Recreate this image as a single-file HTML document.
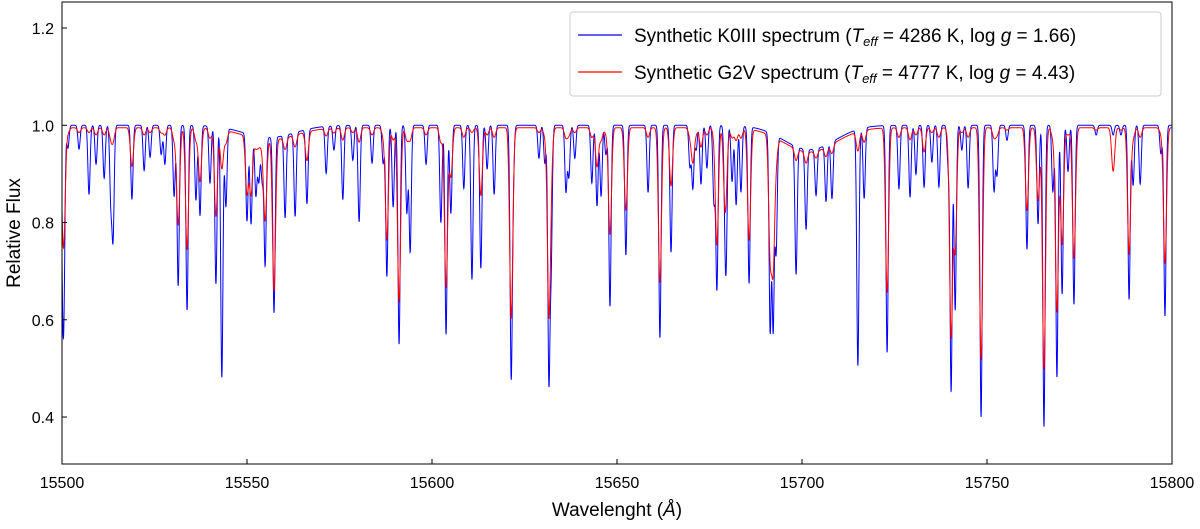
<!DOCTYPE html>
<html><head><meta charset="utf-8"><style>
html,body{margin:0;padding:0;background:#fff;}
svg text{font-family:"Liberation Sans","DejaVu Sans",sans-serif;fill:#000;}
</style></head><body>
<svg id="chart" width="1200" height="524" viewBox="0 0 1200 524" xmlns="http://www.w3.org/2000/svg">
<g id="plot"></g>
<rect x="62" y="2" width="1110" height="462" fill="none" stroke="#000" stroke-width="1"/>
<g id="axes"></g>
<text x="0" y="0" font-size="19" text-anchor="middle" transform="translate(20,233) rotate(-90)">Relative Flux</text>
<text x="617" y="516" font-size="19" text-anchor="middle">Wavelenght (<tspan font-style="italic">Å</tspan>)</text>
<g>
<rect x="570" y="12" width="591" height="84" rx="3" fill="#fff" fill-opacity="0.8" stroke="#ccc"/>
<line x1="578" y1="35" x2="622" y2="35" stroke="#0000ff" stroke-width="1.2"/>
<text x="634" y="42" font-size="19">Synthetic K0III spectrum (<tspan font-style="italic">T</tspan><tspan font-style="italic" font-size="13" dy="4">eff</tspan><tspan dy="-4"> = 4286 K, log </tspan><tspan font-style="italic">g</tspan> = 1.66)</text>
<line x1="578" y1="72" x2="622" y2="72" stroke="#ff0000" stroke-width="1.2"/>
<text x="634" y="79" font-size="19">Synthetic G2V spectrum (<tspan font-style="italic">T</tspan><tspan font-style="italic" font-size="13" dy="4">eff</tspan><tspan dy="-4"> = 4777 K, log </tspan><tspan font-style="italic">g</tspan> = 4.43)</text>
</g>
</svg>
<script>
const lineCenters=[15500.2,15500.5,15501.6,15504.6,15507.3,15509.2,15511.4,15513.2,15513.8,15518.9,15522.2,15523.8,15526.8,15527.8,15530.3,15531.4,15533.8,15536.2,15537.3,15540.0,15541.6,15543.2,15544.3,15550.0,15551.1,15552.4,15553.2,15554.1,15554.9,15557.3,15560.3,15563.0,15566.2,15571.4,15573.5,15575.9,15578.6,15580.3,15583.8,15586.8,15587.8,15589.5,15591.1,15593.2,15594.1,15598.4,15602.4,15603.8,15605.1,15608.6,15610.8,15613.2,15614.9,15616.8,15621.4,15621.9,15628.9,15630.5,15631.6,15632.2,15636.2,15637.0,15638.6,15643.2,15644.6,15645.7,15647.0,15648.1,15652.4,15658.4,15661.6,15664.6,15669.7,15670.5,15671.4,15672.7,15674.3,15676.2,15677.0,15679.2,15679.5,15681.1,15682.2,15683.5,15685.7,15691.4,15692.2,15693.0,15698.4,15701.1,15703.8,15706.5,15708.1,15715.1,15716.8,15723.0,15726.2,15729.2,15730.8,15733.0,15735.1,15737.0,15739.5,15740.3,15741.4,15743.2,15744.9,15748.4,15751.9,15752.7,15755.4,15760.8,15763.8,15765.4,15767.8,15768.9,15770.3,15771.9,15773.5,15779.5,15784.1,15786.2,15788.4,15789.5,15791.4,15797.0,15798.1];
const k0iiiDepths=[0.26,0.306,0.047,0.049,0.142,0.08,0.109,0.15,0.226,0.152,0.093,0.066,0.06,0.08,0.146,0.33,0.38,0.154,0.185,0.117,0.324,0.516,0.162,0.183,0.187,0.125,0.094,0.09,0.27,0.37,0.173,0.175,0.154,0.097,0.05,0.152,0.072,0.198,0.078,0.078,0.311,0.168,0.45,0.179,0.26,0.08,0.2,0.43,0.181,0.13,0.317,0.294,0.09,0.142,0.51,0.109,0.068,0.078,0.52,0.267,0.136,0.105,0.068,0.119,0.166,0.146,0.06,0.372,0.267,0.138,0.437,0.261,0.084,0.129,0.05,0.121,0.088,0.156,0.337,0.14,0.235,0.115,0.163,0.136,0.323,0.413,0.407,0.243,0.275,0.173,0.101,0.121,0.121,0.49,0.146,0.467,0.13,0.148,0.101,0.127,0.076,0.127,0.08,0.547,0.38,0.051,0.129,0.6,0.134,0.101,0.031,0.255,0.203,0.62,0.136,0.518,0.347,0.095,0.368,0.02,0.02,0.02,0.358,0.123,0.121,0.058,0.392];
const g2vDepths=[0.1,0.18,0.01,0.01,0.01,0.015,0.015,0.02,0.025,0.08,0.015,0.01,0.01,0.015,0.025,0.2,0.25,0.025,0.11,0.02,0.18,0.08,0.025,0.12,0.12,0.02,0.015,0.015,0.17,0.32,0.025,0.025,0.06,0.015,0.01,0.025,0.01,0.03,0.015,0.015,0.23,0.025,0.36,0.025,0.025,0.015,0.03,0.33,0.1,0.02,0.01,0.14,0.015,0.02,0.39,0.015,0.01,0.015,0.38,0.06,0.02,0.015,0.01,0.02,0.08,0.025,0.01,0.22,0.17,0.02,0.32,0.12,0.015,0.07,0.01,0.04,0.015,0.01,0.24,0.14,0.05,0.02,0.025,0.02,0.23,0.24,0.26,0.04,0.025,0.025,0.015,0.02,0.02,0.04,0.025,0.34,0.02,0.025,0.015,0.05,0.01,0.02,0.01,0.43,0.25,0.01,0.02,0.48,0.02,0.015,0.005,0.17,0.15,0.5,0.02,0.38,0.24,0.015,0.27,0.005,0.09,0.005,0.26,0.02,0.02,0.01,0.28];
const broadCenters=[15556,15702];
const broadDepths=[0.025,0.05];
const xTicks=[15500,15550,15600,15650,15700,15750,15800];
const yTicks=[0.4,0.6,0.8,1.0,1.2];
const yTickLabels=["0.4","0.6","0.8","1.0","1.2"];
const k0iiiContinuum=1.0, g2vContinuum=0.995;

const X0=62,X1=1172,Y0=464,Y1=2,XMIN=15500,XMAX=15800,YMIN=0.3034,YMAX=1.2535;
function xs(w){return X0+(w-XMIN)/(XMAX-XMIN)*(X1-X0);}
function ys(v){return Y0-(v-YMIN)/(YMAX-YMIN)*(Y0-Y1);}
const NS="http://www.w3.org/2000/svg";
function flux(w,depths,sig,cont){
  let f=cont;
  for(let i=0;i<broadCenters.length;i++){const d=(w-broadCenters[i])/7;f*=1-broadDepths[i]*Math.exp(-0.5*d*d);}
  for(let i=0;i<lineCenters.length;i++){const d=(w-lineCenters[i])/sig;if(Math.abs(d)<8)f*=1-depths[i]*Math.exp(-0.5*d*d);}
  return f;
}
function series(depths,sig,cont,color,name){
  let pts=[];
  for(let w=XMIN;w<=XMAX+1e-9;w+=0.04){pts.push(xs(w).toFixed(2)+","+ys(flux(w,depths,sig,cont)).toFixed(2));}
  const p=document.createElementNS(NS,"polyline");
  p.setAttribute("points",pts.join(" "));
  p.setAttribute("fill","none");p.setAttribute("stroke",color);p.setAttribute("stroke-width","1");
  
  
  document.getElementById("plot").appendChild(p);
}
series(k0iiiDepths,0.3,k0iiiContinuum,"#0000ff","k0iii-spectrum-line");
series(g2vDepths,0.42,g2vContinuum,"#ff0000","g2v-spectrum-line");
const ax=document.getElementById("axes");
xTicks.forEach(t=>{
  const x=xs(t);
  const l=document.createElementNS(NS,"line");
  l.setAttribute("x1",x);l.setAttribute("x2",x);l.setAttribute("y1",Y0);l.setAttribute("y2",Y0-5);l.setAttribute("stroke","#000");
  
  
  ax.appendChild(l);
  const tx=document.createElementNS(NS,"text");
  tx.setAttribute("x",x);tx.setAttribute("y",488);tx.setAttribute("font-size","16");tx.setAttribute("text-anchor","middle");
  tx.textContent=String(t);
  
  
  ax.appendChild(tx);
});
yTicks.forEach((t,i)=>{
  const y=ys(t);
  const l=document.createElementNS(NS,"line");
  l.setAttribute("x1",X0);l.setAttribute("x2",X0+5);l.setAttribute("y1",y);l.setAttribute("y2",y);l.setAttribute("stroke","#000");
  
  
  ax.appendChild(l);
  const tx=document.createElementNS(NS,"text");
  tx.setAttribute("x",54);tx.setAttribute("y",y+6);tx.setAttribute("font-size","16");tx.setAttribute("text-anchor","end");
  tx.textContent=yTickLabels[i];
  
  
  ax.appendChild(tx);
});
</script>
</body></html>
